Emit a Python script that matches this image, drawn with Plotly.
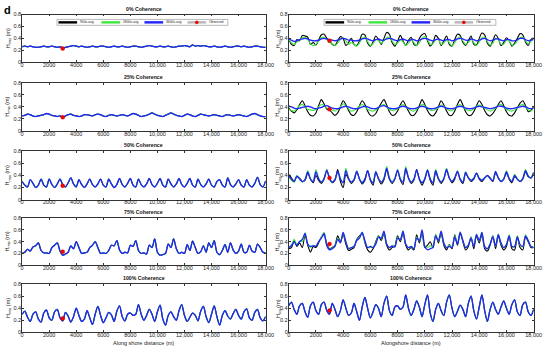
import plotly.graph_objects as go
from plotly.subplots import make_subplots

# ---------------- data ----------------
DIST = list(range(0, 18001, 200))  # alongshore position (m)

PANEL_TITLES = ["0% Coherence", "25% Coherence", "50% Coherence", "75% Coherence", "100% Coherence"]
SERIES_NAMES = ["900s-avg.", "1800s-avg.", "3600s-avg."]
OBS_NAME = "Observed"
X_TICKS = [0, 2000, 4000, 6000, 8000, 10000, 12000, 14000, 16000, 18000]
X_TICK_TEXT = ["0", "2000", "4000", "6000", "8000", "10,000", "12,000", "14,000", "16,000", "18,000"]
Y_TICKS = [0, 0.2, 0.4, 0.6, 0.8]
Y_TICK_TEXT = ["0", "0.2", "0.4", "0.6", "0.8"]

OBS_X = 3000
OBS_HRMS = 0.23
OBS_HSIG = 0.36

# Left column: H_rms (the three averaging windows overlap almost completely)
HRMS_0 = [0.26,0.27,0.26,0.27,0.26,0.25,0.25,0.26,0.27,0.26,
          0.26,0.27,0.26,0.25,0.26,0.24,0.25,0.26,0.27,0.28,
          0.27,0.26,0.27,0.26,0.25,0.26,0.27,0.26,0.26,0.27,
          0.27,0.26,0.25,0.26,0.27,0.26,0.26,0.27,0.26,0.25,
          0.26,0.27,0.27,0.26,0.25,0.26,0.27,0.28,0.27,0.26,
          0.26,0.27,0.26,0.26,0.27,0.26,0.25,0.26,0.27,0.27,
          0.28,0.27,0.26,0.29,0.27,0.28,0.27,0.28,0.27,0.26,
          0.26,0.27,0.26,0.25,0.26,0.27,0.26,0.25,0.26,0.27,
          0.27,0.26,0.27,0.26,0.25,0.26,0.27,0.27,0.26,0.25,0.25]
HRMS_25 = [0.25,0.26,0.28,0.27,0.25,0.24,0.25,0.26,0.27,0.29,
           0.28,0.26,0.25,0.24,0.25,0.23,0.25,0.27,0.28,0.26,
           0.25,0.24,0.25,0.27,0.27,0.26,0.25,0.27,0.28,0.27,
           0.25,0.24,0.26,0.27,0.26,0.25,0.26,0.27,0.26,0.25,
           0.27,0.29,0.28,0.26,0.24,0.25,0.26,0.28,0.30,0.28,
           0.26,0.25,0.24,0.26,0.28,0.30,0.28,0.26,0.25,0.24,
           0.26,0.28,0.27,0.25,0.24,0.26,0.28,0.27,0.26,0.25,
           0.26,0.27,0.26,0.25,0.24,0.26,0.27,0.26,0.25,0.26,
           0.27,0.26,0.25,0.24,0.26,0.28,0.29,0.27,0.25,0.24,0.24]
HRMS_50 = [0.30,0.24,0.21,0.33,0.27,0.20,0.24,0.34,0.24,0.21,
           0.34,0.25,0.20,0.26,0.34,0.25,0.21,0.28,0.36,0.26,
           0.21,0.33,0.25,0.20,0.26,0.34,0.25,0.21,0.26,0.34,
           0.24,0.21,0.34,0.26,0.20,0.25,0.35,0.25,0.21,0.27,
           0.35,0.24,0.21,0.34,0.25,0.21,0.26,0.35,0.25,0.21,
           0.27,0.35,0.24,0.21,0.34,0.26,0.21,0.26,0.35,0.25,
           0.21,0.27,0.35,0.24,0.21,0.34,0.25,0.21,0.26,0.34,
           0.24,0.21,0.30,0.33,0.24,0.21,0.36,0.25,0.21,0.26,
           0.33,0.24,0.21,0.33,0.24,0.21,0.27,0.37,0.25,0.21,0.31]
HRMS_75 = [0.20,0.22,0.27,0.24,0.31,0.33,0.38,0.25,0.21,0.21,
           0.20,0.30,0.34,0.38,0.24,0.17,0.19,0.22,0.33,0.28,
           0.40,0.30,0.20,0.21,0.22,0.30,0.34,0.40,0.30,0.20,
           0.21,0.20,0.25,0.34,0.33,0.42,0.26,0.20,0.22,0.21,
           0.34,0.32,0.42,0.25,0.20,0.21,0.19,0.34,0.30,0.45,
           0.22,0.17,0.18,0.20,0.36,0.30,0.45,0.28,0.20,0.22,
           0.20,0.35,0.25,0.41,0.30,0.20,0.23,0.33,0.22,0.38,
           0.30,0.42,0.22,0.18,0.25,0.35,0.22,0.38,0.26,0.20,
           0.24,0.36,0.22,0.22,0.34,0.24,0.22,0.36,0.30,0.22,0.21]
HRMS_100 = [0.30,0.35,0.25,0.18,0.30,0.34,0.22,0.17,0.32,0.37,
            0.24,0.20,0.34,0.38,0.24,0.19,0.33,0.27,0.17,0.26,
            0.40,0.28,0.18,0.22,0.36,0.24,0.13,0.30,0.43,0.28,
            0.16,0.24,0.33,0.29,0.18,0.35,0.44,0.26,0.19,0.30,
            0.32,0.28,0.30,0.46,0.30,0.20,0.28,0.38,0.30,0.18,
            0.34,0.45,0.22,0.12,0.28,0.34,0.26,0.20,0.36,0.46,
            0.28,0.18,0.25,0.32,0.28,0.19,0.35,0.43,0.26,0.16,
            0.30,0.44,0.26,0.12,0.28,0.36,0.27,0.22,0.31,0.38,
            0.28,0.22,0.34,0.39,0.24,0.20,0.33,0.38,0.24,0.19,0.26]

# Right column: H_sig for 900 s, 1800 s, 3600 s averaging
HSIG_0_900 = [0.40,0.30,0.28,0.38,0.36,0.45,0.44,0.42,0.30,0.33,
              0.29,0.37,0.46,0.47,0.40,0.36,0.30,0.28,0.36,0.43,
              0.40,0.28,0.33,0.40,0.30,0.28,0.36,0.47,0.46,0.32,
              0.27,0.34,0.44,0.38,0.30,0.40,0.50,0.47,0.33,0.27,
              0.35,0.45,0.36,0.28,0.37,0.42,0.30,0.28,0.40,0.46,
              0.48,0.36,0.27,0.33,0.45,0.40,0.28,0.36,0.44,0.30,
              0.27,0.38,0.47,0.45,0.33,0.28,0.36,0.44,0.30,0.29,
              0.40,0.49,0.46,0.32,0.27,0.36,0.46,0.40,0.28,0.33,
              0.41,0.36,0.27,0.32,0.40,0.48,0.46,0.34,0.28,0.38,0.41]
HSIG_0_1800 = [0.38,0.33,0.30,0.34,0.38,0.41,0.42,0.38,0.31,0.28,
               0.30,0.36,0.41,0.42,0.38,0.34,0.31,0.28,0.32,0.38,
               0.41,0.36,0.30,0.33,0.30,0.27,0.32,0.40,0.42,0.35,
               0.28,0.31,0.38,0.36,0.32,0.36,0.41,0.42,0.36,0.30,
               0.32,0.38,0.34,0.28,0.32,0.38,0.33,0.28,0.33,0.40,
               0.43,0.38,0.30,0.31,0.38,0.38,0.30,0.32,0.38,0.33,
               0.27,0.33,0.40,0.42,0.36,0.30,0.33,0.39,0.33,0.28,
               0.34,0.41,0.42,0.35,0.29,0.32,0.40,0.38,0.30,0.30,
               0.37,0.36,0.29,0.30,0.36,0.41,0.42,0.36,0.31,0.35,0.40]
HSIG_0_3600 = [0.39,0.37,0.35,0.36,0.38,0.39,0.40,0.39,0.37,0.36,
               0.36,0.37,0.39,0.40,0.39,0.38,0.37,0.36,0.37,0.39,
               0.40,0.39,0.37,0.37,0.36,0.36,0.37,0.39,0.40,0.39,
               0.37,0.36,0.38,0.39,0.37,0.37,0.39,0.40,0.39,0.37,
               0.36,0.38,0.39,0.37,0.36,0.38,0.38,0.36,0.37,0.39,
               0.40,0.39,0.37,0.36,0.38,0.39,0.37,0.36,0.38,0.38,
               0.36,0.37,0.39,0.40,0.39,0.37,0.37,0.39,0.38,0.36,
               0.37,0.39,0.40,0.38,0.36,0.37,0.39,0.39,0.37,0.36,
               0.38,0.38,0.36,0.36,0.38,0.40,0.40,0.38,0.36,0.37,0.38]

HSIG_25_900 = [0.38,0.33,0.30,0.35,0.44,0.50,0.42,0.32,0.26,0.25,
               0.30,0.42,0.52,0.45,0.36,0.35,0.30,0.26,0.30,0.40,
               0.50,0.44,0.34,0.27,0.26,0.32,0.42,0.50,0.44,0.33,
               0.26,0.25,0.29,0.38,0.46,0.52,0.43,0.32,0.26,0.27,
               0.33,0.43,0.50,0.42,0.33,0.26,0.26,0.32,0.42,0.52,
               0.44,0.34,0.27,0.25,0.30,0.40,0.50,0.43,0.33,0.26,
               0.26,0.33,0.44,0.52,0.43,0.32,0.26,0.26,0.32,0.42,
               0.50,0.44,0.34,0.27,0.25,0.29,0.36,0.44,0.50,0.42,
               0.32,0.26,0.25,0.30,0.38,0.46,0.50,0.42,0.32,0.34,0.40]
HSIG_25_1800 = [0.36,0.34,0.33,0.37,0.42,0.44,0.40,0.36,0.35,0.34,
                0.36,0.40,0.44,0.42,0.38,0.37,0.35,0.33,0.36,0.40,
                0.45,0.42,0.37,0.33,0.34,0.37,0.41,0.44,0.40,0.36,
                0.34,0.33,0.35,0.39,0.42,0.44,0.40,0.36,0.34,0.35,
                0.37,0.41,0.44,0.40,0.37,0.34,0.33,0.36,0.40,0.44,
                0.42,0.38,0.35,0.34,0.36,0.39,0.43,0.41,0.37,0.34,
                0.34,0.37,0.41,0.44,0.40,0.36,0.34,0.34,0.37,0.41,
                0.43,0.41,0.38,0.35,0.33,0.35,0.38,0.42,0.44,0.40,
                0.36,0.34,0.33,0.35,0.38,0.42,0.44,0.40,0.35,0.33,0.38]
HSIG_25_3600 = [0.41,0.40,0.38,0.37,0.38,0.39,0.40,0.41,0.40,0.38,
                0.37,0.38,0.39,0.41,0.42,0.40,0.38,0.37,0.37,0.38,
                0.40,0.41,0.40,0.38,0.37,0.37,0.38,0.40,0.41,0.40,
                0.38,0.37,0.37,0.39,0.41,0.42,0.40,0.38,0.37,0.37,
                0.38,0.40,0.41,0.40,0.38,0.37,0.37,0.38,0.40,0.41,
                0.40,0.38,0.37,0.37,0.38,0.40,0.41,0.40,0.38,0.37,
                0.37,0.38,0.40,0.41,0.40,0.38,0.37,0.37,0.38,0.40,
                0.41,0.40,0.39,0.38,0.37,0.38,0.39,0.41,0.41,0.40,
                0.38,0.37,0.37,0.38,0.39,0.40,0.41,0.40,0.38,0.37,0.38]

HSIG_50_900 = [0.42,0.36,0.30,0.38,0.36,0.30,0.32,0.44,0.34,0.28,
               0.40,0.32,0.27,0.34,0.48,0.36,0.28,0.32,0.50,0.30,
               0.20,0.42,0.34,0.27,0.32,0.46,0.34,0.26,0.32,0.48,
               0.32,0.24,0.46,0.34,0.26,0.33,0.50,0.34,0.27,0.34,
               0.48,0.33,0.25,0.50,0.36,0.27,0.32,0.50,0.34,0.24,
               0.34,0.48,0.32,0.24,0.46,0.34,0.27,0.34,0.48,0.36,
               0.28,0.34,0.46,0.33,0.27,0.44,0.36,0.30,0.34,0.44,
               0.34,0.30,0.36,0.40,0.36,0.30,0.44,0.36,0.30,0.34,
               0.44,0.34,0.28,0.38,0.34,0.30,0.34,0.46,0.38,0.36,0.44]
HSIG_50_1800 = [0.38,0.32,0.29,0.40,0.35,0.29,0.34,0.48,0.35,0.30,
                0.50,0.36,0.29,0.36,0.50,0.34,0.29,0.34,0.44,0.36,
                0.28,0.52,0.36,0.29,0.34,0.48,0.35,0.29,0.35,0.48,
                0.34,0.29,0.46,0.35,0.29,0.36,0.55,0.37,0.29,0.35,
                0.50,0.35,0.30,0.55,0.37,0.29,0.34,0.48,0.35,0.29,
                0.35,0.50,0.35,0.29,0.50,0.36,0.30,0.35,0.52,0.36,
                0.31,0.36,0.48,0.35,0.30,0.46,0.37,0.32,0.36,0.44,
                0.36,0.33,0.37,0.40,0.36,0.32,0.46,0.36,0.31,0.35,
                0.48,0.36,0.31,0.42,0.35,0.31,0.35,0.50,0.40,0.36,0.46]
HSIG_50_3600 = [0.40,0.34,0.30,0.39,0.34,0.30,0.33,0.46,0.34,0.30,
                0.46,0.34,0.29,0.35,0.49,0.35,0.29,0.33,0.47,0.34,
                0.28,0.48,0.35,0.29,0.33,0.47,0.34,0.28,0.34,0.48,
                0.33,0.28,0.46,0.35,0.29,0.35,0.52,0.35,0.29,0.35,
                0.49,0.34,0.29,0.52,0.36,0.29,0.34,0.49,0.34,0.28,
                0.34,0.49,0.34,0.28,0.48,0.35,0.29,0.35,0.50,0.36,
                0.30,0.36,0.47,0.34,0.29,0.45,0.36,0.32,0.35,0.44,
                0.35,0.32,0.36,0.40,0.35,0.31,0.47,0.36,0.30,0.34,
                0.46,0.35,0.30,0.40,0.34,0.30,0.35,0.48,0.39,0.36,0.45]

HSIG_75_900 = [0.28,0.30,0.42,0.32,0.38,0.30,0.52,0.34,0.22,0.32,
               0.30,0.38,0.48,0.52,0.36,0.28,0.30,0.34,0.50,0.40,
               0.52,0.36,0.25,0.27,0.30,0.44,0.50,0.54,0.38,0.26,
               0.22,0.28,0.40,0.50,0.42,0.54,0.34,0.26,0.30,0.33,
               0.50,0.40,0.54,0.34,0.26,0.30,0.26,0.52,0.38,0.55,
               0.30,0.34,0.40,0.30,0.52,0.38,0.54,0.34,0.26,0.35,
               0.28,0.52,0.34,0.54,0.40,0.26,0.32,0.48,0.28,0.50,
               0.38,0.52,0.28,0.24,0.34,0.50,0.28,0.50,0.34,0.26,
               0.32,0.50,0.28,0.26,0.48,0.30,0.26,0.48,0.40,0.30,0.30]
HSIG_75_1800 = [0.31,0.34,0.44,0.35,0.41,0.40,0.55,0.36,0.30,0.34,
                0.33,0.40,0.48,0.56,0.34,0.27,0.29,0.33,0.46,0.39,
                0.55,0.40,0.29,0.30,0.32,0.43,0.48,0.56,0.40,0.30,
                0.30,0.31,0.38,0.50,0.45,0.57,0.36,0.30,0.33,0.32,
                0.48,0.43,0.58,0.36,0.30,0.32,0.28,0.48,0.41,0.58,
                0.33,0.30,0.33,0.31,0.52,0.41,0.57,0.37,0.30,0.34,
                0.30,0.50,0.36,0.57,0.42,0.30,0.34,0.48,0.32,0.53,
                0.41,0.56,0.31,0.28,0.36,0.50,0.32,0.53,0.37,0.30,
                0.35,0.52,0.32,0.31,0.50,0.34,0.31,0.52,0.42,0.32,0.31]
HSIG_75_3600 = [0.30,0.33,0.40,0.34,0.40,0.44,0.54,0.36,0.32,0.33,
                0.32,0.40,0.46,0.54,0.33,0.26,0.28,0.32,0.44,0.38,
                0.56,0.40,0.28,0.30,0.32,0.42,0.46,0.56,0.42,0.30,
                0.32,0.30,0.36,0.48,0.46,0.58,0.36,0.30,0.33,0.31,
                0.46,0.44,0.58,0.36,0.30,0.32,0.28,0.46,0.42,0.60,
                0.32,0.26,0.28,0.30,0.50,0.42,0.58,0.38,0.30,0.32,
                0.30,0.48,0.36,0.56,0.42,0.30,0.34,0.46,0.32,0.52,
                0.42,0.56,0.32,0.28,0.36,0.48,0.33,0.52,0.38,0.30,
                0.35,0.50,0.32,0.32,0.48,0.35,0.32,0.50,0.42,0.32,0.30]

HSIG_100 = [0.44,0.50,0.38,0.30,0.44,0.48,0.34,0.25,0.44,0.50,
            0.36,0.30,0.46,0.50,0.36,0.30,0.48,0.38,0.26,0.36,
            0.54,0.40,0.28,0.32,0.48,0.34,0.20,0.42,0.58,0.40,
            0.24,0.34,0.46,0.40,0.26,0.48,0.60,0.36,0.28,0.42,
            0.44,0.38,0.42,0.62,0.40,0.28,0.38,0.52,0.42,0.26,
            0.46,0.62,0.32,0.18,0.38,0.48,0.36,0.28,0.50,0.62,
            0.40,0.26,0.35,0.45,0.38,0.26,0.48,0.60,0.36,0.22,
            0.42,0.62,0.36,0.18,0.38,0.50,0.38,0.30,0.42,0.52,
            0.40,0.30,0.46,0.54,0.34,0.28,0.46,0.50,0.34,0.28,0.38]

LEFT = [(HRMS_0, HRMS_0, HRMS_0), (HRMS_25, HRMS_25, HRMS_25), (HRMS_50, HRMS_50, HRMS_50),
        (HRMS_75, HRMS_75, HRMS_75), (HRMS_100, HRMS_100, HRMS_100)]
RIGHT = [(HSIG_0_900, HSIG_0_1800, HSIG_0_3600), (HSIG_25_900, HSIG_25_1800, HSIG_25_3600),
         (HSIG_50_900, HSIG_50_1800, HSIG_50_3600), (HSIG_75_900, HSIG_75_1800, HSIG_75_3600),
         (HSIG_100, HSIG_100, HSIG_100)]

# ---------------- styling / layout ----------------
COLORS = ["#000000", "#3ee83e", "#2222ff"]
WIDTHS = [1.1, 1.1, 1.3]
OBS_LINE = "#b8b8b8"
FONT = "Arial, Liberation Sans, sans-serif"
W, H = 550, 352
XL = [20.5 / W, 268.5 / W]
XR = [292 / W, 541.5 / W]
ROW_PX = [(11.7, 60.3), (81, 130.3), (151, 200), (219, 266.7), (286, 335)]
ROWS = [(1 - b / H, 1 - t / H) for t, b in ROW_PX]


def px(x):
    return x / W


def py(y):
    return 1 - y / H


fig = make_subplots(rows=5, cols=2)

for r in range(5):
    for c, (cols_data, obs_y) in enumerate([(LEFT[r], OBS_HRMS), (RIGHT[r], OBS_HSIG)]):
        for k in range(3):
            fig.add_trace(go.Scatter(
                x=DIST, y=cols_data[k], mode="lines", name=SERIES_NAMES[k],
                line=dict(color=COLORS[k], width=WIDTHS[k], shape="spline", smoothing=0.8),
                showlegend=False), row=r + 1, col=c + 1)
        fig.add_trace(go.Scatter(
            x=[OBS_X], y=[obs_y], mode="markers", name=OBS_NAME,
            marker=dict(color="#ff0000", size=4, line=dict(color="#aa0000", width=0.4)),
            showlegend=False), row=r + 1, col=c + 1)

axis_common = dict(showline=True, mirror="ticks", linecolor="#333", linewidth=0.8,
                   ticks="inside", ticklen=2, tickcolor="#333", tickwidth=0.6,
                   showgrid=False, zeroline=False,
                   tickfont=dict(family=FONT, size=5.5, color="#222"))

for r in range(5):
    for c in range(2):
        n = r * 2 + c + 1
        sfx = "" if n == 1 else str(n)
        fig.update_layout({
            "xaxis" + sfx: dict(domain=XL if c == 0 else XR, range=[0, 18000],
                                tickvals=X_TICKS, ticktext=X_TICK_TEXT,
                                ticklabelstandoff=-3, **axis_common),
            "yaxis" + sfx: dict(domain=list(ROWS[r]), range=[0, 0.8],
                                tickvals=Y_TICKS, ticktext=Y_TICK_TEXT,
                                ticklabelstandoff=-1, **axis_common),
        })

annotations = []
shapes = []
for r in range(5):
    y_top = ROWS[r][1]
    y_mid = (ROWS[r][0] + ROWS[r][1]) / 2
    for c in range(2):
        xd = XL if c == 0 else XR
        annotations.append(dict(
            text="<b>" + PANEL_TITLES[r] + "</b>", xref="paper", yref="paper",
            x=(xd[0] + xd[1]) / 2, y=y_top, xanchor="center", yanchor="bottom",
            yshift=1, showarrow=False, font=dict(family=FONT, size=5.2, color="#111")))
        annotations.append(dict(
            text=("H<sub>rms</sub> (m)" if c == 0 else "H<sub>sig</sub> (m)"),
            xref="paper", yref="paper", x=px(6 if c == 0 else 281), y=y_mid,
            xanchor="center", yanchor="middle", textangle=-90, showarrow=False,
            font=dict(family=FONT, size=5.5, color="#222")))
annotations.append(dict(text="Along shore distance (m)", xref="paper", yref="paper",
                        x=(XL[0] + XL[1]) / 2, y=py(345.5), xanchor="center", yanchor="middle",
                        showarrow=False, font=dict(family=FONT, size=5.5, color="#222")))
annotations.append(dict(text="Alongshore distance (m)", xref="paper", yref="paper",
                        x=(XR[0] + XR[1]) / 2, y=py(345.5), xanchor="center", yanchor="middle",
                        showarrow=False, font=dict(family=FONT, size=5.5, color="#222")))
annotations.append(dict(text="<b>d</b>", xref="paper", yref="paper", x=px(6), y=py(7),
                        xanchor="center", yanchor="middle", showarrow=False,
                        font=dict(family=FONT, size=11, color="#000")))

# compact boxed legends inside the two top panels (MATLAB style)
LEG_BOXES = [(56, 230), (328, 503)]
LEG_Y0, LEG_Y1 = 16.7, 22.7
LEG_YC = (LEG_Y0 + LEG_Y1) / 2
LEG_STEP = 43.8
LEG_LINE = 19
key_names = SERIES_NAMES + [OBS_NAME]
key_colors = COLORS + [OBS_LINE]
for bx0, bx1 in LEG_BOXES:
    shapes.append(dict(type="rect", xref="paper", yref="paper",
                       x0=px(bx0), x1=px(bx1), y0=py(LEG_Y1), y1=py(LEG_Y0),
                       line=dict(color="#8a8a8a", width=0.6), fillcolor="white", layer="above"))
    for k, (nm, col) in enumerate(zip(key_names, key_colors)):
        lx0 = bx0 + 1.5 + LEG_STEP * k
        lx1 = lx0 + LEG_LINE
        shapes.append(dict(type="line", xref="paper", yref="paper",
                           x0=px(lx0), x1=px(lx1), y0=py(LEG_YC), y1=py(LEG_YC),
                           line=dict(color=col, width=2.4), layer="above"))
        if nm == OBS_NAME:
            cx = (lx0 + lx1) / 2
            shapes.append(dict(type="circle", xref="paper", yref="paper",
                               x0=px(cx - 1.6), x1=px(cx + 1.6),
                               y0=py(LEG_YC + 1.6), y1=py(LEG_YC - 1.6),
                               fillcolor="#ff0000", line=dict(color="#aa0000", width=0.3),
                               layer="above"))
        annotations.append(dict(text=nm, xref="paper", yref="paper",
                                x=px(lx1 + 1.2), y=py(LEG_YC), xanchor="left", yanchor="middle",
                                showarrow=False, font=dict(family=FONT, size=3.3, color="#222")))

fig.update_layout(
    width=W, height=H, margin=dict(l=0, r=0, t=0, b=0),
    paper_bgcolor="white", plot_bgcolor="white",
    annotations=annotations, shapes=shapes, showlegend=False,
)

fig.write_html("out.html", config={"displayModeBar": False},
               post_script="document.body.style.margin='0px';")
